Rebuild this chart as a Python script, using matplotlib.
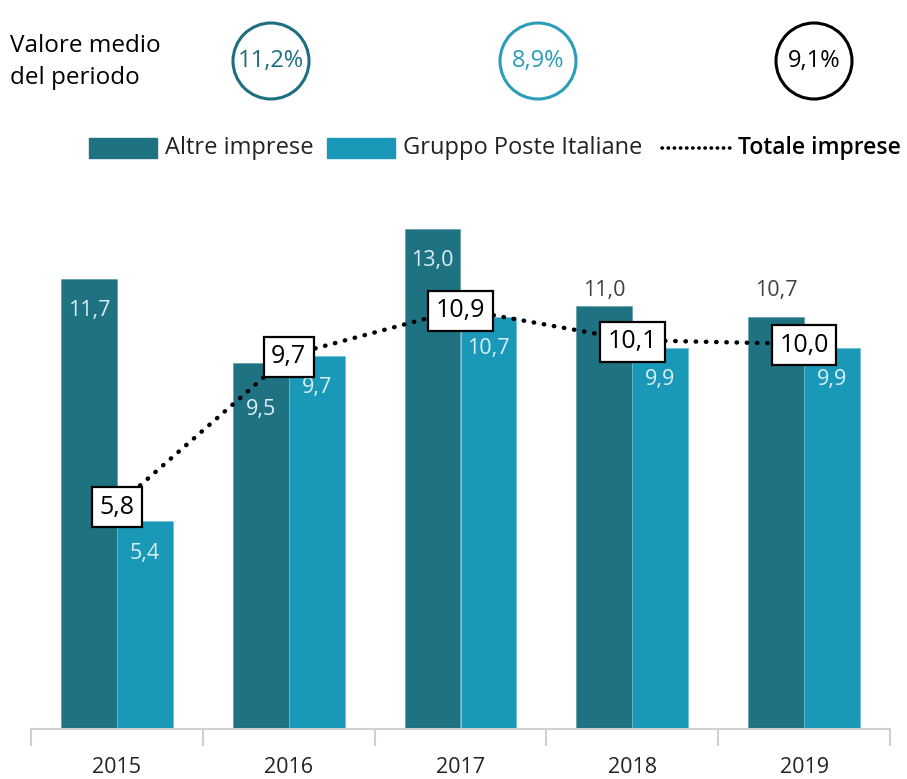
import numpy as np
import matplotlib.pyplot as plt
from matplotlib.patches import Circle, Rectangle
from matplotlib.lines import Line2D

plt.rcParams['font.family'] = ['Open Sans', 'DejaVu Sans']

years = ["2015", "2016", "2017", "2018", "2019"]
altre = [11.7, 9.5, 13.0, 11.0, 10.7]
poste = [5.4, 9.7, 10.7, 9.9, 9.9]
totale = [5.8, 9.7, 10.9, 10.1, 10.0]
medie = ["11,2%", "8,9%", "9,1%"]

DARK = "#1F7282"
LIGHT = "#1A98B8"
INSIDE = "#DCEFF4"


def fmt(v):
    return f"{v:.1f}".replace(".", ",")


fig = plt.figure(figsize=(9.07, 7.79), dpi=100)
W, H = 907, 779
ax = fig.add_axes([31 / W, 50 / H, 859 / W, 539 / H])

x = np.arange(len(years))
bw = 0.325
ax.bar(x - bw / 2, altre, bw, color=DARK, edgecolor="#5F9FAC", linewidth=0.5)
ax.bar(x + bw / 2, poste, bw, color=LIGHT, edgecolor="#6FC0D3", linewidth=0.5)
ax.set_xlim(-0.5, len(years) - 0.5)
ax.set_ylim(0, 14)

# linea del totale
ax.plot(x, totale, color="black", linestyle=(0, (0.1, 2.2)), linewidth=3.2,
        dash_capstyle="round", zorder=3)

# etichette barre scure (2018/2019 sopra la barra, le altre dentro)
for i, v in enumerate(altre):
    if i >= 3:
        ax.annotate(fmt(v), (x[i] - bw / 2, max(altre[3:])), xytext=(0, 3),
                    textcoords="offset points", ha="center", va="bottom",
                    fontsize=15.5, color="#404040")
    else:
        off = -33 if i == 1 else -23
        ax.annotate(fmt(v), (x[i] - bw / 2, v), xytext=(0, off),
                    textcoords="offset points", ha="center", va="center",
                    fontsize=15.5, color=INSIDE)
for i, v in enumerate(poste):
    ax.annotate(fmt(v), (x[i] + bw / 2, v), xytext=(0, -23),
                textcoords="offset points", ha="center", va="center",
                fontsize=15.5, color=INSIDE)

for i, v in enumerate(totale):
    ax.annotate(fmt(v), (x[i], v), xytext=(0, -1), textcoords="offset points",
                ha="center", va="center", fontsize=18, color="black", zorder=5,
                bbox=dict(boxstyle="square,pad=0.3", fc="white", ec="black", lw=1.6))

for s in ["top", "right", "left"]:
    ax.spines[s].set_visible(False)
ax.spines["bottom"].set_color("#D0D0D0")
ax.spines["bottom"].set_linewidth(1.5)
ax.set_yticks([])
ax.set_xticks(np.arange(-0.5, len(years)))
ax.set_xticklabels([])
ax.tick_params(axis="x", length=12, width=1.5, color="#D0D0D0")
for i, y in enumerate(years):
    ax.text(x[i], -1.0, y, ha="center", va="center", fontsize=15.5, color="#222222")

# intestazione
fig.text(10 / W, 1 - 62 / H, "Valore medio\ndel periodo", ha="left", va="center",
         fontsize=17.5, color="black", linespacing=1.45)
circ_x = [271, 538, 814]
circ_col = ["#1C6E80", "#2A9DB8", "black"]
for cx, txt, c in zip(circ_x, medie, circ_col):
    circ = Circle((cx, H - 61), 38, transform=None, fill=False, ec=c, lw=2.2)
    fig.patches.append(circ)
    fig.text(cx / W, 1 - 61 / H, txt, ha="center", va="center", fontsize=17, color=c)

# legenda
ly = 1 - 148 / H
fig.patches.append(Rectangle((89, H - 158), 68, 20, transform=None, color=DARK))
fig.text(165 / W, ly, "Altre imprese", ha="left", va="center", fontsize=17, color="#222222")
fig.patches.append(Rectangle((327, H - 158), 68, 20, transform=None, color=LIGHT))
fig.text(403 / W, ly, "Gruppo Poste Italiane", ha="left", va="center", fontsize=17,
         color="#222222")
fig.lines.append(Line2D([662 / W, 730 / W], [ly, ly], transform=fig.transFigure,
                        color="black", linestyle=(0, (0.1, 1.6)), linewidth=2.6,
                        dash_capstyle="round"))
fig.text(738 / W, ly, "Totale imprese", ha="left", va="center", fontsize=16.5,
         color="black", fontweight="semibold")

fig.savefig("out.png", dpi=100)
